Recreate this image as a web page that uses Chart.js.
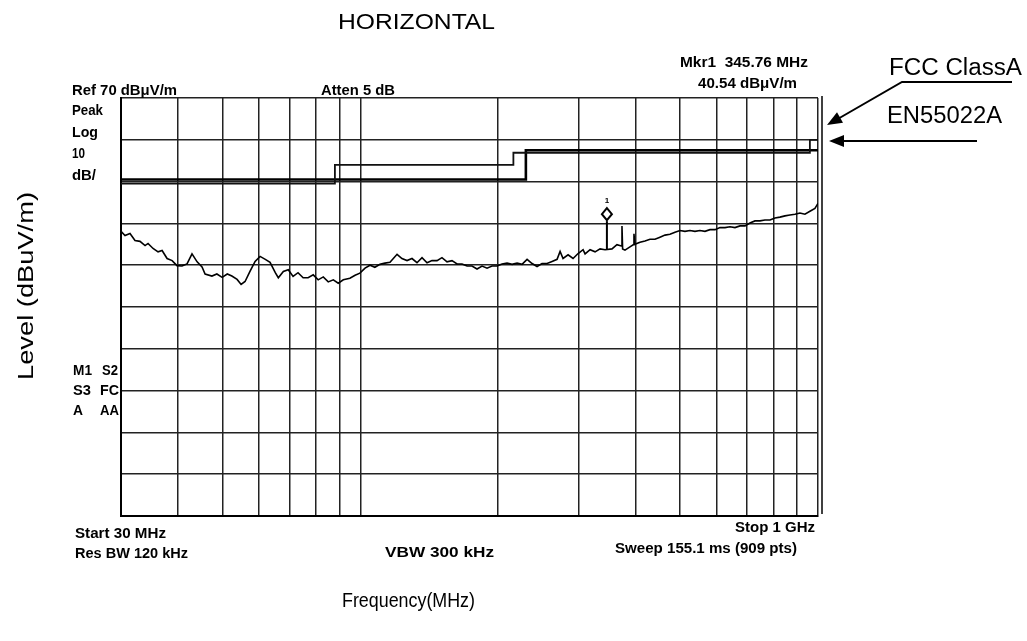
<!DOCTYPE html>
<html>
<head>
<meta charset="utf-8">
<script src="https://cdn.jsdelivr.net/npm/chart.js@4/dist/chart.umd.min.js"></script>
<style>
  html, body { margin: 0; padding: 0; background: #fff; }
  #wrap { width: 1027px; height: 641px; }
</style>
</head>
<body>
<div id="wrap"><canvas id="emiChart" width="1027" height="641"></canvas></div>
<script>
/* ===============================
   DATA
=============================== */
// log grid of the analyser screen
const gridFreqs = [30, 40, 50, 60, 70, 80, 90, 100, 200, 300, 400, 500, 600, 700, 800, 900, 1000];

// measured peak trace, MHz / dBuV/m
const traceFreq = [
  30.0, 30.61, 31.39, 32.19, 33.01, 33.86, 34.37, 35.25, 36.15, 36.89,
  37.83, 38.80, 39.76, 40.78, 41.82, 42.88, 44.0, 45.1, 45.8, 47.4,
  48.6, 49.9, 51.2, 52.4, 53.8, 54.9, 56.0, 57.4, 58.9, 60.4,
  62.0, 63.5, 65.2, 66.2, 67.9, 69.6, 71.3, 73.1, 75.0, 76.9,
  78.9, 80.9, 83.0, 85.1, 87.3, 89.5, 91.8, 94.9, 97.4, 99.8,
  102.4, 105.0, 107.6, 110.4, 113.2, 116.1, 120.3, 123.3, 126.5, 129.7,
  133.0, 136.4, 139.9, 143.4, 147.1, 150.8, 154.7, 158.6, 162.7, 166.8,
  171.1, 175.4, 179.9, 184.5, 189.2, 194.0, 199.0, 204.0, 209.2, 214.6,
  220.0, 225.6, 231.4, 237.3, 243.3, 249.5, 255.9, 262.4, 269.1, 273.2,
  277.3, 284.4, 291.6, 299.1, 306.7, 309.8, 317.7, 325.8, 334.1, 342.6,
  354.7, 363.7, 371.8, 373.0, 374.2, 378.7, 388.3, 394.6, 396.2, 397.8,
  408.4, 418.8, 429.4, 440.4, 451.6, 463.1, 474.9, 487.0, 499.4, 512.1,
  525.2, 538.5, 552.2, 566.3, 580.7, 595.5, 610.7, 626.2, 642.2, 658.5,
  675.3, 692.5, 710.1, 728.2, 746.7, 765.8, 785.3, 805.3, 825.8, 846.8,
  868.4, 890.5, 913.2, 936.4, 960.3, 984.7, 1000
];
const traceLevel = [
  38.1, 37.1, 37.6, 35.9, 35.7, 34.7, 35.2, 34.0, 33.2, 33.5,
  31.6, 31.1, 29.9, 29.8, 30.3, 32.7, 30.8, 29.6, 27.9, 27.4,
  27.9, 27.1, 27.9, 27.4, 26.6, 25.4, 26.1, 28.5, 30.9, 32.1,
  31.4, 30.7, 28.2, 27.0, 28.5, 28.9, 27.3, 28.2, 27.0, 27.0,
  27.7, 26.5, 27.2, 26.0, 26.5, 25.7, 26.5, 26.9, 27.6, 28.1,
  29.3, 30.0, 29.5, 30.2, 30.5, 30.7, 32.6, 31.6, 31.1, 31.6,
  30.6, 31.8, 30.6, 31.1, 31.1, 31.8, 30.8, 31.1, 30.3, 30.3,
  29.8, 29.8, 29.1, 29.8, 29.3, 29.8, 29.8, 30.3, 30.5, 30.2,
  30.5, 30.2, 31.4, 30.4, 29.7, 30.4, 30.4, 30.9, 31.4, 33.3,
  31.6, 32.5, 31.6, 32.8, 33.7, 32.7, 33.7, 33.2, 33.9, 33.7,
  33.9, 34.9, 34.6, 39.4, 33.9, 33.6, 34.4, 34.9, 37.5, 35.0,
  35.5, 35.8, 36.2, 36.2, 36.7, 37.2, 37.4, 37.9, 38.3, 38.1,
  38.3, 38.1, 38.3, 38.1, 38.5, 38.5, 39.0, 39.0, 39.2, 39.0,
  39.4, 39.4, 40.1, 40.6, 40.6, 40.8, 40.8, 41.3, 41.5, 41.8,
  42.0, 42.2, 42.5, 42.2, 42.9, 43.6, 44.8
];

// marker 1
const markerFreq = [345.76];
const markerLevel = [40.54];
const markerBase = [33.8];

// limit lines (step changes)
const fccFreq = [30, 88, 216, 960, 1000];
const fccLevel = [49.5, 54, 56.9, 60, 60];
const enFreq = [30, 230, 1000];
const enLevel = [50.5, 57.5, 57.5];

const pts = (xs, ys) => xs.map((x, i) => ({ x, y: ys[i] }));

/* ===============================
   TEXT HELPERS
=============================== */
const SANS = "'Liberation Sans', Arial, sans-serif";
const NARROW = "bold 14px 'Liberation Sans Narrow', 'Liberation Sans', sans-serif";

// draw text squeezed / stretched to a given width
function fitText(ctx, text, x, y, w, font) {
  ctx.font = font;
  const m = ctx.measureText(text).width;
  ctx.save();
  ctx.translate(x, y);
  ctx.scale(w / m, 1);
  ctx.fillText(text, 0, 0);
  ctx.restore();
}

function arrowHead(ctx, fx, fy, tx, ty) {
  const a = Math.atan2(ty - fy, tx - fx);
  const len = 15, half = 6;
  ctx.beginPath();
  ctx.moveTo(tx, ty);
  ctx.lineTo(tx - len * Math.cos(a) + half * Math.sin(a), ty - len * Math.sin(a) - half * Math.cos(a));
  ctx.lineTo(tx - len * Math.cos(a) - half * Math.sin(a), ty - len * Math.sin(a) + half * Math.cos(a));
  ctx.closePath();
  ctx.fill();
}

// analyser screen labels: [text, x, baseline, width]
const screenLabels = [
  ["Ref 70 dB\u03BCV/m", 72, 95, 105],
  ["Atten 5 dB", 321, 95, 74],
  ["Mkr1  345.76 MHz", 680, 67, 128],
  ["40.54 dB\u03BCV/m", 698, 88, 99],
  ["Peak", 72, 115, 31],
  ["Log", 72, 137, 26],
  ["10", 72, 158, 13],
  ["dB/", 72, 180, 24],
  ["M1", 73, 375, 19], ["S2", 102, 375, 16],
  ["S3", 73, 395, 18], ["FC", 100, 395, 19],
  ["A", 73, 415, 10], ["AA", 100, 415, 19],
  ["Start 30 MHz", 75, 538, 91],
  ["Res BW 120 kHz", 75, 558, 113],
  ["VBW 300 kHz", 385, 557, 109],
  ["Stop 1 GHz", 735, 532, 80],
  ["Sweep 155.1 ms (909 pts)", 615, 553, 182]
];

/* ===============================
   OVERLAY: texts, marker, arrows
=============================== */
const overlayPlugin = {
  id: "overlay",
  afterDatasetsDraw(chart) {
    const { ctx, chartArea, scales } = chart;
    ctx.save();
    ctx.fillStyle = "#000";
    ctx.strokeStyle = "#000";

    // second frame line on the right
    ctx.lineWidth = 1.5;
    ctx.beginPath();
    ctx.moveTo(chartArea.right + 4, chartArea.top - 2);
    ctx.lineTo(chartArea.right + 4, chartArea.bottom - 2);
    ctx.stroke();

    // marker diamond sitting on the marker peak
    const mx = scales.x.getPixelForValue(markerFreq[0]);
    const my = scales.y.getPixelForValue(markerLevel[0]) - 7;
    ctx.fillStyle = "#fff";
    ctx.lineWidth = 2;
    ctx.beginPath();
    ctx.moveTo(mx, my - 6);
    ctx.lineTo(mx + 5, my);
    ctx.lineTo(mx, my + 6);
    ctx.lineTo(mx - 5, my);
    ctx.closePath();
    ctx.fill();
    ctx.stroke();
    ctx.fillStyle = "#000";
    ctx.font = "bold 8px " + SANS;
    ctx.textAlign = "center";
    ctx.fillText("1", mx, my - 11);
    ctx.textAlign = "left";

    screenLabels.forEach(([t, x, y, w]) => fitText(ctx, t, x, y, w, NARROW));

    // report texts
    fitText(ctx, "HORIZONTAL", 338, 29, 157, "22px " + SANS);
    fitText(ctx, "Frequency(MHz)", 342, 607, 133, "20px " + SANS);
    fitText(ctx, "FCC ClassA", 889, 75, 133, "23px " + SANS);
    fitText(ctx, "EN55022A", 887, 123, 115, "23px " + SANS);

    ctx.save();
    ctx.translate(33, 380);
    ctx.rotate(-Math.PI / 2);
    fitText(ctx, "Level (dBuV/m)", 0, 0, 188, "22px " + SANS);
    ctx.restore();

    // pointer arrows to the limit lines
    ctx.lineWidth = 2;
    ctx.beginPath();
    ctx.moveTo(1012, 82);
    ctx.lineTo(902, 82);
    ctx.lineTo(836, 120);
    ctx.moveTo(977, 141);
    ctx.lineTo(840, 141);
    ctx.stroke();
    arrowHead(ctx, 902, 82, 827, 125);
    arrowHead(ctx, 977, 141, 829, 141);

    ctx.restore();
  }
};

/* ===============================
   CHART
=============================== */
new Chart(document.getElementById("emiChart"), {
  type: "line",
  data: {
    datasets: [
      {
        label: "FCC ClassA",
        data: pts(fccFreq, fccLevel),
        borderColor: "#111",
        borderWidth: 1.8,
        stepped: "before",
        pointRadius: 0
      },
      {
        label: "EN55022A",
        data: pts(enFreq, enLevel),
        borderColor: "#000",
        borderWidth: 2.6,
        stepped: "before",
        pointRadius: 0
      },
      {
        label: "Trace",
        data: pts(traceFreq, traceLevel),
        borderColor: "#000",
        borderWidth: 1.6,
        tension: 0,
        pointRadius: 0
      },
      {
        label: "Marker 1",
        data: [
          { x: markerFreq[0], y: markerBase[0] },
          { x: markerFreq[0], y: markerLevel[0] }
        ],
        borderColor: "#000",
        borderWidth: 2,
        pointRadius: 0
      }
    ]
  },
  options: {
    responsive: false,
    animation: false,
    events: [],
    layout: { padding: { left: 121, right: 209, top: 98, bottom: 125 } },
    plugins: {
      legend: { display: false },
      tooltip: { enabled: false }
    },
    scales: {
      x: {
        type: "logarithmic",
        min: 30,
        max: 1000,
        afterBuildTicks: scale => {
          scale.ticks = gridFreqs.map(v => ({ value: v }));
        },
        ticks: { display: false },
        grid: { color: "#222", lineWidth: 1.5, drawTicks: false },
        border: { display: true, color: "#000", width: 2 }
      },
      y: {
        type: "linear",
        min: -30,
        max: 70,
        ticks: { display: false, stepSize: 10 },
        grid: { color: "#222", lineWidth: 1.5, drawTicks: false },
        border: { display: true, color: "#000", width: 2 }
      }
    }
  },
  plugins: [overlayPlugin]
});
</script>
</body>
</html>
